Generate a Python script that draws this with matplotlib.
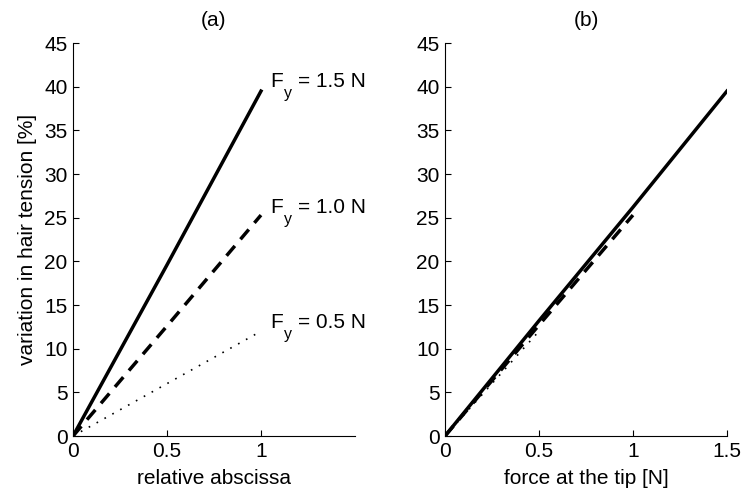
import matplotlib
matplotlib.use("Agg")
import matplotlib.pyplot as plt

plt.rcParams["font.family"] = ["Liberation Sans", "DejaVu Sans"]

# (a) tension along the hair for three tip forces
x_a = [0, 0.5, 1.0]
solid_a = [0, 19.6, 39.5]
dashed_a = [0, 12.6, 25.3]
dotted_a = [0, 6.0, 12.0]
labels_a = ["1.5", "1.0", "0.5"]
label_y = [40.0, 25.5, 12.4]

# (b) tension versus force at the tip
x_b_solid = [0, 0.5, 1.0, 1.5]
y_b_solid = [0, 13.2, 26.2, 39.5]
x_b_dashed = [0, 0.5, 1.0]
y_b_dashed = [0, 12.7, 25.3]
x_b_dotted = [0, 0.25, 0.5]
y_b_dotted = [0, 6.0, 12.0]

fs = 15

fig = plt.figure(figsize=(7.42, 4.93), dpi=100)
ax1 = fig.add_axes([0.0984, 0.1156, 0.380, 0.797])
ax2 = fig.add_axes([0.5997, 0.1156, 0.380, 0.797])

lw = 2.5
ax1.plot(x_a, solid_a, color="black", lw=lw)
ax1.plot(x_a, dashed_a, color="black", lw=lw, dashes=(3.7, 2.5))
ax1.plot(x_a, dotted_a, color="black", lw=1.2, dashes=(1, 4.4))

# F_y = ... labels, subscript built by hand (larger and lower than mathtext)
for lab, yy in zip(labels_a, label_y):
    ax1.text(1.05, yy, "F", fontsize=fs, va="baseline", ha="left")
    ax1.annotate("y", xy=(1.05, yy), xytext=(9.6, -8), textcoords="offset points",
                 fontsize=11.5, va="baseline", ha="left")
    ax1.annotate("= " + lab + " N", xy=(1.05, yy), xytext=(19.8, 0),
                 textcoords="offset points", fontsize=fs, va="baseline", ha="left")

ax2.plot(x_b_solid, y_b_solid, color="black", lw=lw)
ax2.plot(x_b_dashed, y_b_dashed, color="black", lw=lw, dashes=(3.7, 2.5))
ax2.plot(x_b_dotted, y_b_dotted, color="black", lw=1.2, dashes=(1, 4.4))

for ax, title in [(ax1, "(a)"), (ax2, "(b)")]:
    ax.set_xlim(0, 1.5)
    ax.set_ylim(0, 45)
    ax.set_yticks(range(0, 46, 5))
    ax.spines["top"].set_visible(False)
    ax.spines["right"].set_visible(False)
    for s in ax.spines.values():
        s.set_linewidth(0.8)
    ax.tick_params(direction="in", labelsize=fs, length=4, width=0.8, pad=4)
    ax.set_title(title, fontsize=fs, pad=12)

ax1.set_xticks([0, 0.5, 1])
ax1.set_xticklabels(["0", "0.5", "1"])
ax2.set_xticks([0, 0.5, 1, 1.5])
ax2.set_xticklabels(["0", "0.5", "1", "1.5"])

ax1.set_xlabel("relative abscissa", fontsize=fs, labelpad=6)
ax1.set_ylabel("variation in hair tension [%]", fontsize=fs, labelpad=5)
ax2.set_xlabel("force at the tip [N]", fontsize=fs, labelpad=6)

fig.savefig("out.png", dpi=100)
